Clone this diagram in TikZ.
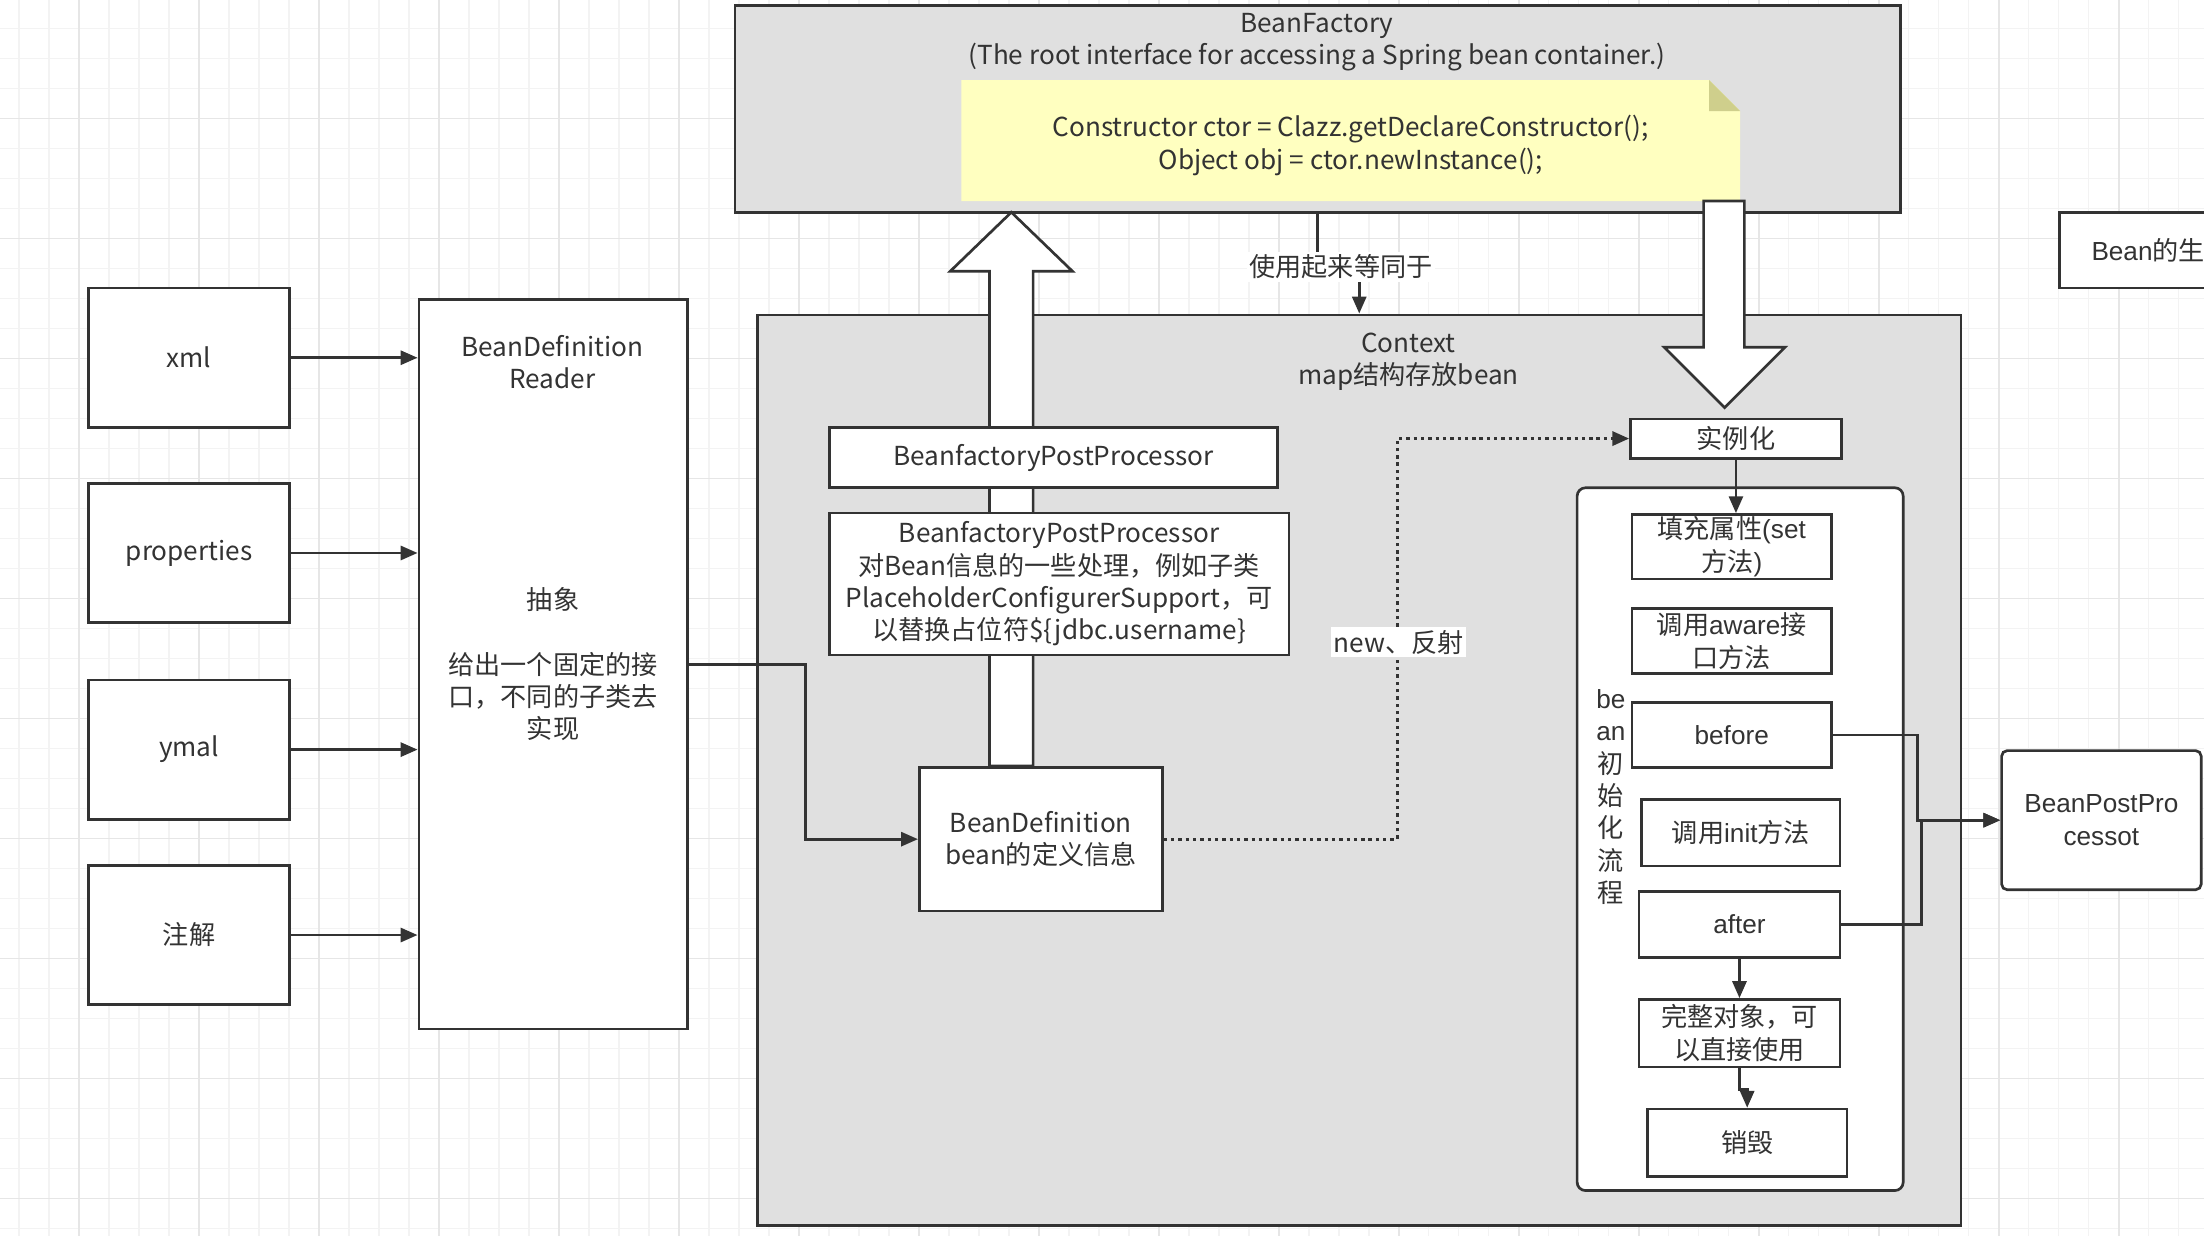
\documentclass[tikz,border=0pt]{standalone}
\usepackage{fontspec}
\setmainfont{Noto Sans CJK SC}
\newfontfamily\lat{Liberation Sans}
\usetikzlibrary{arrows.meta,positioning}
\definecolor{ink}{HTML}{333333}
\definecolor{panelgray}{HTML}{E0E0E0}
\definecolor{memo}{HTML}{FFFFC0}
\definecolor{memofold}{HTML}{CFCF8C}
\definecolor{gridminor}{HTML}{F3F3F3}
\definecolor{gridmajor}{HTML}{E6E6E6}

\begin{document}
\begin{tikzpicture}[x=1pt,y=-1pt,
    every node/.style={font=\fontsize{18.6}{23}\selectfont,text=ink,align=center,inner sep=0pt},
    box/.style={draw=ink,line width=1.9pt,fill=white},
    panel/.style={draw=ink,line width=1.9pt,fill=panelgray},
    link/.style={draw=ink,line width=1.9pt,-{Triangle[length=12pt,width=10pt]}},
    dotlink/.style={link,line width=2.3pt,dash pattern=on 2.4pt off 2.8pt},
    tag/.style={fill=white,inner sep=2pt},
    flex/.style={draw=ink,line width=1.9pt,fill=white},
    minorgrid/.style={draw=gridminor,line width=1pt},
    majorgrid/.style={draw=gridmajor,line width=1pt}]
    \useasboundingbox (0,0) rectangle (1568,879);
    \fill[white] (0,0) rectangle (1568,879);
    \foreach \i in {0,...,72} \draw[minorgrid] (13.5+21.34*\i,0) -- ++(0,879);
    \foreach \i in {0,...,40} \draw[minorgrid] (0,20.4+21.34*\i) -- ++(1568,0);
    \foreach \i in {0,...,18} \draw[majorgrid] (56.2+85.37*\i,0) -- ++(0,879);
    \foreach \i in {0,...,10} \draw[majorgrid] (0,84.4+85.37*\i) -- ++(1568,0);

    \node[panel,minimum width=829pt,minimum height=147pt] (factory) at (937.5,77.5) {};
    \node (factorytxt) at (937,30) {BeanFactory\\(The root interface for accessing a Spring bean container.)};
    \fill[memo] (684,57) -- (1216,57) -- (1238,79) -- (1238,143) -- (684,143) -- cycle;
    \fill[memofold] (1216,57) -- (1238,79) -- (1216,79) -- cycle;
    \node (memotxt) at (961,103.5) {Constructor ctor = Clazz.getDeclareConstructor();\\Object obj = ctor.newInstance();};

    \node[panel,minimum width=856pt,minimum height=648pt] (context) at (967,548) {};
    \node (contexttxt) at (1002,257.5) {Context\\map结构存放bean};
    \draw[link] (factory.south) -- ++(0,36) -| (context.north);
    \node[tag] (same) at (954,190) {使用起来等同于};

    \draw[flex] (704,545) -- (704,193) -- (676,193) -- (719.5,151) -- (763,193) -- (735,193) -- (735,545) -- cycle;
    \draw[flex] (1212,143) -- (1212,247) -- (1184,247) -- (1227,290) -- (1270,247) -- (1241,247) -- (1241,143) -- cycle;

    \node[box,minimum width=143pt,minimum height=99pt] (xml) at (134.5,254.5) {xml};
    \node[box,minimum width=143pt,minimum height=99pt,below=38pt of xml] (props) {properties};
    \node[box,minimum width=143pt,minimum height=99pt,below=39pt of props] (ymal) {ymal};
    \node[box,minimum width=143pt,minimum height=99pt,below=31pt of ymal] (anno) {注解};
    \node[box,minimum width=191pt,minimum height=519pt] (reader) at (393.5,472.5) {抽象\\[23pt]给出一个固定的接\\口，不同的子类去\\实现};
    \node (readertxt) at (393,257.5) {BeanDefinition\\Reader};
    \foreach \src in {xml,props,ymal,anno}
        \draw[link] (\src.east) -- (\src.east -| reader.west);

    \node[box,minimum width=319pt,minimum height=43pt] (bfpp) at (749.5,325.5) {BeanfactoryPostProcessor};
    \node[box,minimum width=327pt,minimum height=101pt] (bfppnote) at (753.5,415.5) {BeanfactoryPostProcessor\\对Bean信息的一些处理，例如子类\\PlaceholderConfigurerSupport，可\\以替换占位符\$\{jdbc.username\}};
    \node[box,minimum width=173pt,minimum height=102pt] (beandef) at (740.5,597) {BeanDefinition\\bean的定义信息};
    \draw[link] (reader.east) -- ++(83,0) |- (beandef.west);

    \node[box,minimum width=150pt,minimum height=28pt] (inst) at (1235,312) {实例化};
    \draw[dotlink] (beandef.east) -- ++(166,0) |- (inst.west);
    \node[tag] (newtag) at (995,457) {new、反射};

    \node[box,rounded corners=6pt,minimum width=232pt,minimum height=500pt] (flow) at (1238,597) {};
    \node (flowtxt) at (1146,567) {{\lat be}\\{\lat an}\\初\\始\\化\\流\\程};
    \node[box,minimum width=142pt,minimum height=46pt] (fillprop) at (1232,389) {填充属性{\lat (set}\\方法{\lat )}};
    \node[box,minimum width=142pt,minimum height=46pt] (aware) at (1232,456) {调用{\lat aware}接\\口方法};
    \node[box,minimum width=142pt,minimum height=46pt] (before) at (1232,523) {\lat before};
    \node[box,minimum width=141pt,minimum height=47pt] (init) at (1238.5,592.5) {调用{\lat init}方法};
    \node[box,minimum width=143pt,minimum height=47pt] (after) at (1237.5,657.5) {\lat after};
    \node[box,minimum width=143pt,minimum height=48pt] (whole) at (1237.5,735) {完整对象，可\\以直接使用};
    \node[box,minimum width=142pt,minimum height=48pt] (destroy) at (1243,813) {销毁};
    \draw[link] (inst.south) -- (inst.south |- fillprop.north);
    \draw[link] (after.south) -- (whole.north);
    \draw[link] (whole.south) -- ++(0,15) -| (destroy.north);

    \node[box,rounded corners=4pt,minimum width=142pt,minimum height=99pt] (bpp) at (1495,583.5) {{\lat BeanPostPro}\\{\lat cessot}};
    \draw[link] (before.east) -- ++(60,0) |- (bpp.west);
    \draw[link] (after.east) -- ++(57,0) |- (bpp.west);

    \node[box,anchor=west,minimum height=54pt,inner xsep=23pt,text width=130pt,align=left] (life) at (1464,178) {{\lat Bean}的生};
\end{tikzpicture}
\end{document}
